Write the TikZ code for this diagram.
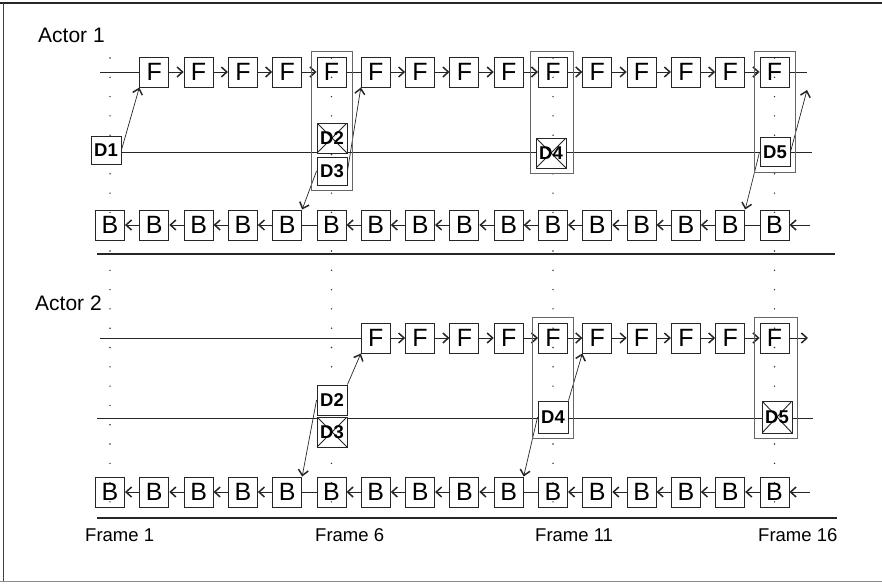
\documentclass[tikz,border=0pt]{standalone}
\usepackage{fontspec}
\setmainfont{Liberation Sans}
\usetikzlibrary{arrows.meta,fit}
\begin{document}
\begin{tikzpicture}[x=1pt,y=-1pt,
  fbox/.style={draw=black!85, line width=0.9pt, minimum width=29pt, minimum height=30pt, inner sep=0pt, font=\fontsize{25}{25}\selectfont},
  dbox/.style={draw=black!85, fill=white, line width=0.9pt, minimum width=30pt, minimum height=30pt, inner sep=0pt, font=\bfseries\fontsize{18.5}{18.5}\selectfont},
  crossed/.style={dbox, path picture={\draw[line width=0.9pt,black!85] (path picture bounding box.north west) -- (path picture bounding box.south east) (path picture bounding box.north east) -- (path picture bounding box.south west);}},
  link/.style={draw=black!85, line width=0.7pt, -{Straight Barb[length=5.5pt,width=10pt,line width=1.5pt]}},
  plain/.style={draw=black!85, line width=0.7pt},
  hl/.style={draw=black!60, line width=0.6pt, inner sep=5pt},
  vdots/.style={draw=black!80, line width=1.6pt, line cap=round, dash pattern=on 0pt off 19.3pt},
  sep/.style={draw=black!85, line width=1.1pt},
  lbl/.style={anchor=west, inner sep=0pt, font=\fontsize{21}{21}\selectfont},
  flbl/.style={anchor=west, inner sep=0pt, font=\fontsize{18.5}{18.5}\selectfont}
]
\useasboundingbox (0,0) rectangle (882,583);
% page border
\draw[line width=1.5pt, black!85] (0,3) -- (882,3);
\draw[line width=1pt, black!75] (3,3) -- (3,582);
\draw[line width=1pt, black!45] (0,581.5) -- (882,581.5);

% frame coordinates and dotted verticals
\foreach \k in {1,6,11,16}{
  \coordinate (vt\k) at ({110+44.3*(\k-1)},58);
  \coordinate (vb\k) at ({110+44.3*(\k-1)},515);
  \draw[vdots] (vt\k) -- (vb\k);
}

% D-row lines
\coordinate (a1ds) at (121,152);
\coordinate (a1de) at (812,152);
\draw[plain] (a1ds) -- (a1de);
\coordinate (a2ds) at (97,418);
\coordinate (a2de) at (813,418);
\draw[plain] (a2ds) -- (a2de);

% separators
\coordinate (s1a) at (97,254); \coordinate (s1b) at (835,254);
\coordinate (s2a) at (97,518); \coordinate (s2b) at (837,518);
\draw[sep] (s1a) -- (s1b);
\draw[sep] (s2a) -- (s2b);

% labels
\node[lbl] (act1) at (38,35) {Actor 1};
\node[lbl] (act2) at (35,303) {Actor 2};
\node[flbl] (fr1) at (85,535) {Frame 1};
\node[flbl] (fr6) at (315,535) {Frame 6};
\node[flbl] (fr11) at (535,535) {Frame 11};
\node[flbl] (fr16) at (758,535) {Frame 16};

% Actor 1 boxes
\foreach \k in {2,...,16}{
  \node[fbox] (a1f\k) at ({110+44.3*(\k-1)},72) {F};
}
\foreach \k in {1,...,16}{
  \node[fbox] (a1b\k) at ({110+44.3*(\k-1)},225) {B};
}
% Actor 2 boxes
\foreach \k in {7,...,16}{
  \node[fbox] (a2f\k) at ({110+44.3*(\k-1)},338) {F};
}
\foreach \k in {1,...,16}{
  \node[fbox] (a2b\k) at ({110+44.3*(\k-1)},492) {B};
}

% Actor 1 D boxes
\node[dbox, minimum height=28pt] (a1d1) at (106,150) {D1};
\node[crossed] (a1d2) at (332,138) {D2};
\node[dbox, minimum height=28pt] (a1d3) at (332,171) {D3};
\node[crossed] (a1d4) at (551,153) {D4};
\node[dbox, minimum height=29pt] (a1d5) at (775,152) {D5};
% Actor 2 D boxes
\node[dbox] (a2d2) at (332,400) {D2};
\node[crossed] (a2d3) at (332,432) {D3};
\node[dbox, minimum height=32pt] (a2d4) at (553,417) {D4};
\node[crossed, minimum height=32pt] (a2d5) at (777,417) {D5};

% Actor 1 F chain
\coordinate (a1fs) at (100,72);
\coordinate (a1fe) at (807,72);
\draw[plain] (a1fs) -- (a1f2);
\foreach \k in {2,3,4,5,7,8,9,10,11,12,13,14,15}{
  \pgfmathtruncatemacro\nx{\k+1}
  \draw[link] (a1f\k) -- (a1f\nx);
}
\draw[plain] (a1f6) -- (a1f7);
\draw[plain] (a1f16) -- (a1fe);

% Actor 1 B chain
\coordinate (a1be) at (810,225);
\draw[link] (a1be) -- (a1b16);
\foreach \k in {2,3,4,5,7,8,9,10,11,12,13,14,15}{
  \pgfmathtruncatemacro\nx{\k-1}
  \draw[link] (a1b\k) -- (a1b\nx);
}
\draw[plain] (a1b6) -- (a1b5);
\draw[plain] (a1b16) -- (a1b15);

% Actor 2 F chain
\coordinate (a2fs) at (100,338);
\coordinate (a2fe) at (808,338);
\draw[plain] (a2fs) -- (a2f7);
\foreach \k in {7,...,15}{
  \pgfmathtruncatemacro\nx{\k+1}
  \draw[link] (a2f\k) -- (a2f\nx);
}
\draw[link] (a2f16) -- (a2fe);

% Actor 2 B chain
\coordinate (a2be) at (810,492);
\draw[link] (a2be) -- (a2b16);
\foreach \k in {2,3,4,5,7,8,9,10,12,13,14,15,16}{
  \pgfmathtruncatemacro\nx{\k-1}
  \draw[link] (a2b\k) -- (a2b\nx);
}
\draw[plain] (a2b6) -- (a2b5);
\draw[plain] (a2b11) -- (a2b10);

% D arrows actor 1
\coordinate (a1d5t) at (807,90);
\draw[link] (a1d1.east) -- (a1f2.south west);
\draw[link] (a1d3.east) -- (a1f7.south west);
\draw[link] (a1d3.west) -- (a1b5.north east);
\draw[link] (a1d5.east) -- (a1d5t);
\draw[link] (a1d5.west) -- (a1b15.north east);
% D arrows actor 2
\draw[link] (a2d2.north east) -- (a2f7.south west);
\draw[link] (a2d2.west) -- (a2b5.north east);
\draw[link] (a2d4.north east) -- (a2f12.south west);
\draw[link] (a2d4.west) -- (a2b10.north east);

% highlight rectangles
\node[hl, fit=(a1f6)(a1d3)] (a1h6) {};
\node[hl, fit=(a1f11)(a1d4)] (a1h11) {};
\node[hl, fit=(a1f16)(a1d5)] (a1h16) {};
\node[hl, fit=(a2f11)(a2d4)] (a2h11) {};
\node[hl, fit=(a2f16)(a2d5)] (a2h16) {};
\end{tikzpicture}
\end{document}
